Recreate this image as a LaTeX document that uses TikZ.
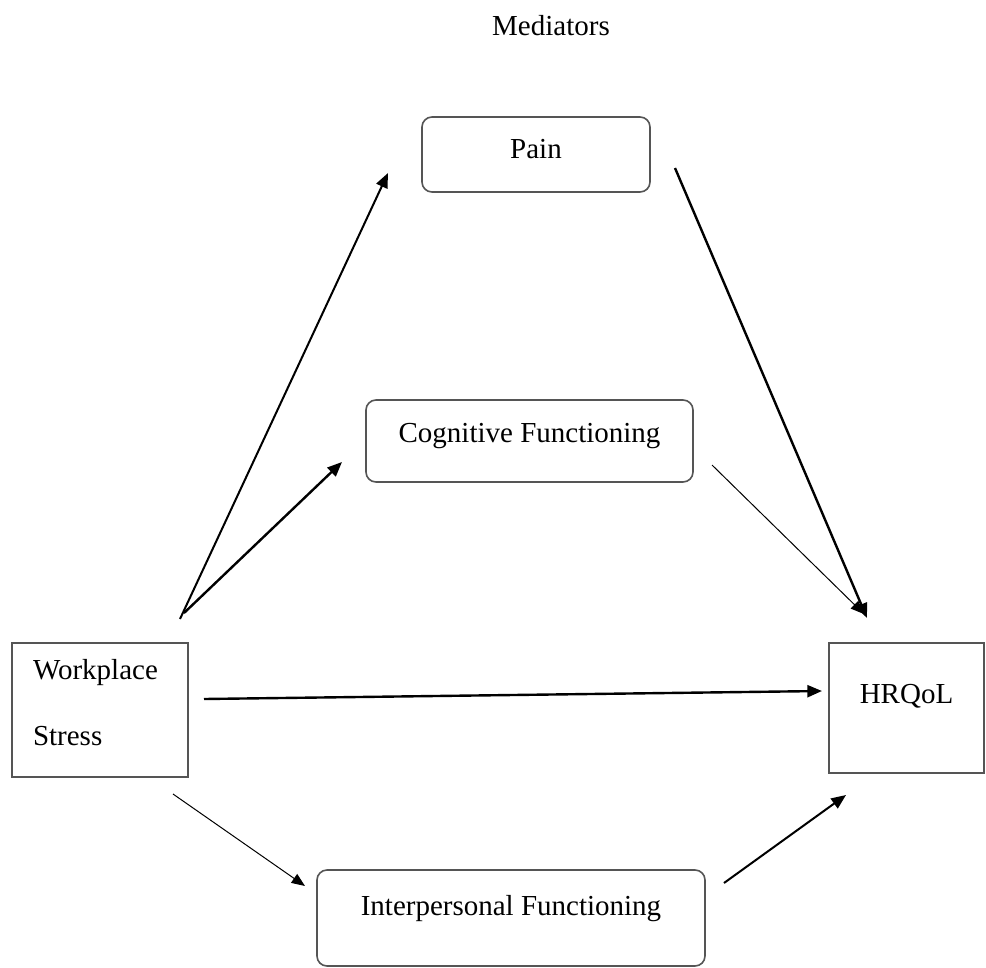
\documentclass[tikz,border=0pt]{standalone}
\usepackage{fontspec}
\setmainfont{Liberation Serif}
\usetikzlibrary{arrows.meta}

\definecolor{boxgray}{RGB}{85,85,85}
\newcommand{\diagfont}{\fontsize{21.75pt}{26pt}\selectfont}

\tikzset{
  medbox/.style={draw=boxgray, line width=1.2pt, rounded corners=7.5pt, inner sep=0pt, font=\diagfont},
  sqbox/.style={draw=boxgray, line width=1.2pt, inner sep=0pt, font=\diagfont},
  arr/.style={-{Triangle[length=11pt,width=9pt]}, line width=1.5pt},
  thinarr/.style={-{Triangle[length=10pt,width=8pt]}, line width=0.75pt},
}

\begin{document}
\begin{tikzpicture}[x=0.75pt,y=0.75pt,yscale=-1,xscale=1]
\useasboundingbox (0,0) rectangle (986,968);

% Text Node
\node (medlabel) [anchor=base, font=\diagfont] at (551,35) {Mediators};

%Shape: Rounded Rectangle
\node (pain) [medbox, minimum width=171pt, minimum height=56.25pt, text height=12pt, text depth=6.75pt] at (536,154.5) {Pain};
%Shape: Rounded Rectangle
\node (cogn) [medbox, minimum width=245.25pt, minimum height=61.5pt, text height=12pt, text depth=10.5pt] at (529.5,441) {Cognitive Functioning};
%Shape: Rounded Rectangle
\node (inter) [medbox, minimum width=291pt, minimum height=72pt, text height=12pt, text depth=16.5pt] at (511,918) {Interpersonal Functioning};
%Shape: Rectangle
\node (wstress) [sqbox, minimum width=132pt, minimum height=100.5pt, text width=100.5pt, align=left, font=\fontsize{21.75pt}{49.5pt}\selectfont, text height=12pt, text depth=58.5pt] at (100,710) {Workplace\\Stress};
%Shape: Rectangle
\node (hrqol) [sqbox, minimum width=116.25pt, minimum height=97.5pt, text height=12pt, text depth=19.5pt] at (906.5,708) {HRQoL};

% free ends of the paths
\coordinate (ws1) at (180,619);
\coordinate (ws2) at (184,613);
\coordinate (ws3) at (204,699);
\coordinate (ws4) at (173,794);
\coordinate (pain1) at (388,173);
\coordinate (pain2) at (675,168);
\coordinate (cogn1) at (342,462);
\coordinate (cogn2) at (712,465);
\coordinate (inter1) at (305,886);
\coordinate (inter2) at (724,883);
\coordinate (hrqol1) at (867,618);
\coordinate (hrqol2) at (864,614);
\coordinate (hrqol3) at (822,691);
\coordinate (hrqol4) at (846,795);

%Straight Lines
\draw [arr] (ws1) -- (pain1);
\draw [arr, line width=1.8pt] (ws2) -- (cogn1);
\draw [arr, line width=1.8pt] (ws3) -- (hrqol3);
\draw [thinarr] (ws4) -- (inter1);
\draw [thinarr] (cogn2) -- (hrqol2);
\draw [arr, line width=1.8pt] (pain2) -- (hrqol1);
\draw [arr] (inter2) -- (hrqol4);

\end{tikzpicture}
\end{document}
